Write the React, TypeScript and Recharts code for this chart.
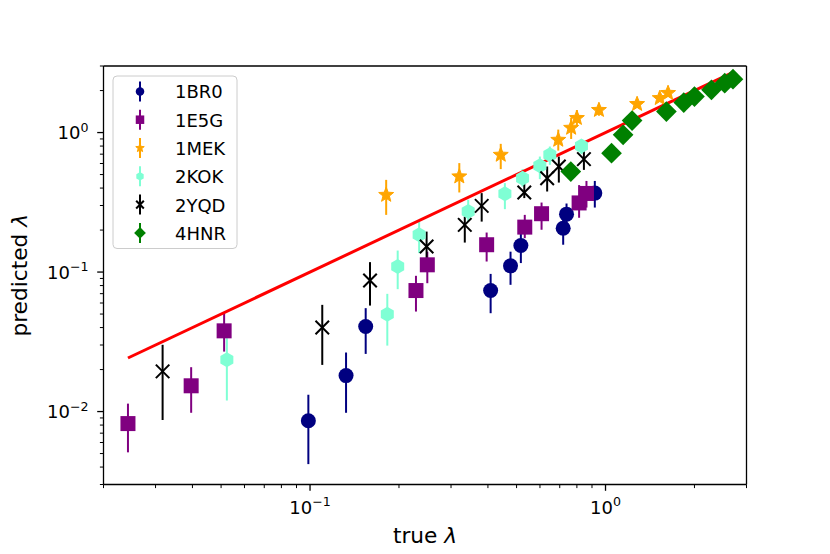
import { ScatterChart, Scatter, XAxis, YAxis, ErrorBar } from 'recharts'

const FONT = '"DejaVu Sans", sans-serif'

// 1BR0
const br0X = [0.0987, 0.1324, 0.1543, 0.4085, 0.477, 0.517, 0.719, 0.738, 0.92]
const br0Y = [0.0086, 0.0181, 0.0407, 0.0737, 0.1108, 0.155, 0.206, 0.26, 0.368]
const br0Lo = [0.0042, 0.0098, 0.0259, 0.0507, 0.081, 0.116, 0.157, 0.205, 0.29]
const br0Hi = [0.0132, 0.0265, 0.0551, 0.097, 0.14, 0.192, 0.25, 0.31, 0.45]

// 1E5G
const e5gX = [0.0242, 0.0396, 0.0512, 0.2283, 0.2494, 0.396, 0.533, 0.6075, 0.814, 0.862]
const e5gY = [0.0082, 0.0153, 0.0379, 0.0737, 0.1127, 0.157, 0.21, 0.262, 0.313, 0.366]
const e5gLo = [0.0051, 0.0098, 0.0269, 0.0521, 0.0832, 0.119, 0.175, 0.201, 0.245, 0.29]
const e5gHi = [0.0114, 0.0208, 0.0507, 0.094, 0.14, 0.192, 0.257, 0.315, 0.42, 0.45]

// 1MEK
const mekX = [0.181, 0.32, 0.442, 0.692, 0.765, 0.8, 0.95, 1.279, 1.526, 1.628]
const mekY = [0.357, 0.484, 0.692, 0.886, 1.08, 1.27, 1.45, 1.6, 1.764, 1.92]
const mekLo = [0.257, 0.372, 0.547, 0.743, 0.9, 1.1, 1.32, 1.5, 1.66, 1.8]
const mekHi = [0.458, 0.604, 0.83, 1.05, 1.28, 1.45, 1.6, 1.72, 1.88, 2.05]

// 2KOK
const kokX = [0.0523, 0.1826, 0.198, 0.234, 0.343, 0.4565, 0.524, 0.5994, 0.648, 0.829]
const kokY = [0.0235, 0.0499, 0.1095, 0.1848, 0.2715, 0.3636, 0.471, 0.577, 0.692, 0.8]
const kokLo = [0.012, 0.0297, 0.0754, 0.1366, 0.23, 0.2824, 0.41, 0.4635, 0.587, 0.7]
const kokHi = [0.0336, 0.0698, 0.1426, 0.23, 0.33, 0.434, 0.547, 0.673, 0.794, 0.88]

// 2YQD
const yqdX = [0.0317, 0.11, 0.1596, 0.248, 0.334, 0.381, 0.531, 0.6346, 0.695, 0.845]
const yqdY = [0.0194, 0.04, 0.0869, 0.1524, 0.218, 0.298, 0.3715, 0.471, 0.571, 0.645]
const yqdLo = [0.0087, 0.0216, 0.0575, 0.1224, 0.1627, 0.23, 0.339, 0.378, 0.438, 0.54]
const yqdHi = [0.0301, 0.0582, 0.1178, 0.195, 0.25, 0.368, 0.458, 0.571, 0.673, 0.76]

// 4HNR
const hnrX = [0.763, 1.048, 1.147, 1.23, 1.607, 1.84, 2.0, 2.283, 2.532, 2.7]
const hnrY = [0.525, 0.711, 0.963, 1.219, 1.414, 1.641, 1.81, 2.023, 2.26, 2.414]
const hnrLo = [0.5, 0.68, 0.93, 1.17, 1.37, 1.59, 1.76, 1.97, 2.2, 2.35]
const hnrHi = [0.55, 0.74, 1.0, 1.27, 1.46, 1.7, 1.86, 2.08, 2.32, 2.48]

// y = x reference line
const fitX = [0.0242, 2.7]
const fitY = [0.0242, 2.7]

const xTicks = [0.02, 0.03, 0.04, 0.05, 0.06, 0.07, 0.08, 0.09, 0.1, 0.2, 0.3, 0.4, 0.5, 0.6, 0.7, 0.8, 0.9, 1, 2, 3]
const yTicks = [
  0.003, 0.004, 0.005, 0.006, 0.007, 0.008, 0.009, 0.01, 0.02, 0.03, 0.04, 0.05, 0.06, 0.07, 0.08, 0.09,
  0.1, 0.2, 0.3, 0.4, 0.5, 0.6, 0.7, 0.8, 0.9, 1, 2, 3,
]
const xDomain = [0.02, 3]
const yDomain = [0.003, 3]

type Kind = 'o' | 's' | '*' | 'h' | 'x' | 'D'

const series: { name: string; color: string; kind: Kind; xs: number[]; ys: number[]; lo: number[]; hi: number[] }[] = [
  { name: '1BR0', color: '#000080', kind: 'o', xs: br0X, ys: br0Y, lo: br0Lo, hi: br0Hi },
  { name: '1E5G', color: '#800080', kind: 's', xs: e5gX, ys: e5gY, lo: e5gLo, hi: e5gHi },
  { name: '1MEK', color: '#ffa500', kind: '*', xs: mekX, ys: mekY, lo: mekLo, hi: mekHi },
  { name: '2KOK', color: '#7fffd4', kind: 'h', xs: kokX, ys: kokY, lo: kokLo, hi: kokHi },
  { name: '2YQD', color: '#000000', kind: 'x', xs: yqdX, ys: yqdY, lo: yqdLo, hi: yqdHi },
  { name: '4HNR', color: '#008000', kind: 'D', xs: hnrX, ys: hnrY, lo: hnrLo, hi: hnrHi },
]

const fitData = fitX.map((x, i) => ({ x, y: fitY[i] }))

function polyPoints(cx: number, cy: number, n: number, r: number, rInner?: number) {
  const pts: string[] = []
  const total = rInner ? n * 2 : n
  for (let i = 0; i < total; i++) {
    const a = -Math.PI / 2 + (i * 2 * Math.PI) / total
    const rr = rInner && i % 2 === 1 ? rInner : r
    pts.push(`${cx + rr * Math.cos(a)},${cy + rr * Math.sin(a)}`)
  }
  return pts.join(' ')
}

// m = marker size in px (circle diameter)
function Marker({ kind, cx, cy, color, m }: { kind: Kind; cx: number; cy: number; color: string; m: number }) {
  const h = m / 2
  switch (kind) {
    case 'o':
      return <circle cx={cx} cy={cy} r={h} fill={color} />
    case 's':
      return <rect x={cx - h} y={cy - h} width={m} height={m} fill={color} />
    case '*':
      return <polygon points={polyPoints(cx, cy, 5, h * 1.05, h * 0.45)} fill={color} stroke={color} strokeWidth={1} />
    case 'h':
      return <polygon points={polyPoints(cx, cy, 6, h)} fill={color} />
    case 'x':
      return (
        <g stroke={color} strokeWidth={2}>
          <line x1={cx - h * 0.9} y1={cy - h * 0.9} x2={cx + h * 0.9} y2={cy + h * 0.9} />
          <line x1={cx - h * 0.9} y1={cy + h * 0.9} x2={cx + h * 0.9} y2={cy - h * 0.9} />
        </g>
      )
    case 'D':
      return <polygon points={polyPoints(cx, cy, 4, h * 1.38)} fill={color} />
  }
  return null
}

const isMajor = (v: number) => Math.abs(Math.log10(v) - Math.round(Math.log10(v))) < 1e-6
const expText = (v: number) => {
  const e = Math.round(Math.log10(v))
  return e < 0 ? '\u2212' + -e : String(e)
}

function XTick(props: any) {
  const { x, y, payload } = props
  const v = payload.value
  const major = isMajor(v)
  return (
    <g>
      <line x1={x} x2={x} y1={y} y2={y + (major ? 6.3 : 3.6)} stroke="#000" strokeWidth={major ? 1.3 : 1} />
      {major && (
        <text x={x} y={y + 29} textAnchor="middle" fontFamily={FONT} fontSize={18} fill="#000">
          10<tspan dy={-7.5} fontSize={12.6}>{expText(v)}</tspan>
        </text>
      )}
    </g>
  )
}

function YTick(props: any) {
  const { x, y, payload } = props
  const v = payload.value
  const major = isMajor(v)
  return (
    <g>
      <line x1={x} x2={x - (major ? 6.3 : 3.6)} y1={y} y2={y} stroke="#000" strokeWidth={major ? 1.3 : 1} />
      {major && (
        <text x={x - 15} y={y + 6.5} textAnchor="end" fontFamily={FONT} fontSize={18} fill="#000">
          10<tspan dy={-7.5} fontSize={12.6}>{expText(v)}</tspan>
        </text>
      )}
    </g>
  )
}

export default function App() {
  return (
    <div style={{ position: 'absolute', left: 0, top: 0, width: 830, height: 554, background: '#fff' }}>
      <ScatterChart width={830} height={554} margin={{ top: 56, right: 73.5, bottom: 39.5, left: 43.5 }}>
        <XAxis
          dataKey="x"
          type="number"
          scale="log"
          domain={xDomain}
          allowDataOverflow
          ticks={xTicks}
          interval={0}
          height={30}
          tickSize={0}
          tickMargin={0}
          tickLine={false}
          tick={<XTick />}
          stroke="#000"
          strokeWidth={1.3}
        />
        <YAxis
          dataKey="y"
          type="number"
          scale="log"
          domain={yDomain}
          allowDataOverflow
          ticks={yTicks}
          interval={0}
          width={60}
          tickSize={0}
          tickMargin={0}
          tickLine={false}
          tick={<YTick />}
          stroke="#000"
          strokeWidth={1.3}
        />
        <XAxis
          xAxisId="top"
          orientation="top"
          type="number"
          scale="log"
          domain={xDomain}
          allowDataOverflow
          height={10}
          tick={false}
          tickLine={false}
          stroke="#000"
          strokeWidth={1.3}
        />
        <YAxis
          yAxisId="right"
          orientation="right"
          type="number"
          scale="log"
          domain={yDomain}
          allowDataOverflow
          width={10}
          tick={false}
          tickLine={false}
          stroke="#000"
          strokeWidth={1.3}
        />
        <Scatter
          data={fitData}
          line={{ stroke: '#ff0000', strokeWidth: 3 }}
          shape={() => <g />}
          isAnimationActive={false}
        />
        {series.map(s => {
          const data = s.xs.map((x, i) => ({ x, y: s.ys[i], err: [s.ys[i] - s.lo[i], s.hi[i] - s.ys[i]] }))
          return (
            <Scatter
              key={s.name}
              name={s.name}
              data={data}
              isAnimationActive={false}
              shape={(p: any) => <Marker kind={s.kind} cx={p.cx} cy={p.cy} color={s.color} m={15} />}
            >
              <ErrorBar dataKey="err" direction="y" width={0} stroke={s.color} strokeWidth={2} isAnimationActive={false} />
            </Scatter>
          )
        })}
      </ScatterChart>
      <svg
        width={830}
        height={554}
        style={{ position: 'absolute', left: 0, top: 0, pointerEvents: 'none' }}
        fontFamily={FONT}
      >
        <text x={425} y={543} textAnchor="middle" fontSize={21.7} fill="#000">
          true <tspan fontStyle="italic">λ</tspan>
        </text>
        <text transform="translate(27,275.3) rotate(-90)" textAnchor="middle" fontSize={21.7} fill="#000">
          predicted <tspan fontStyle="italic">λ</tspan>
        </text>
        <rect x={113} y={76} width={124} height={172.5} rx={4} fill="#fff" fillOpacity={0.8} stroke="#cccccc" />
        {series.map((s, i) => {
          const cy = 91.4 + i * 28.3
          return (
            <g key={s.name}>
              <line x1={140} x2={140} y1={cy - 10} y2={cy + 10} stroke={s.color} strokeWidth={2} />
              <Marker kind={s.kind} cx={140} cy={cy} color={s.color} m={8.5} />
              <text x={175} y={cy + 7} fontSize={18} fill="#000">
                {s.name}
              </text>
            </g>
          )
        })}
      </svg>
    </div>
  )
}
